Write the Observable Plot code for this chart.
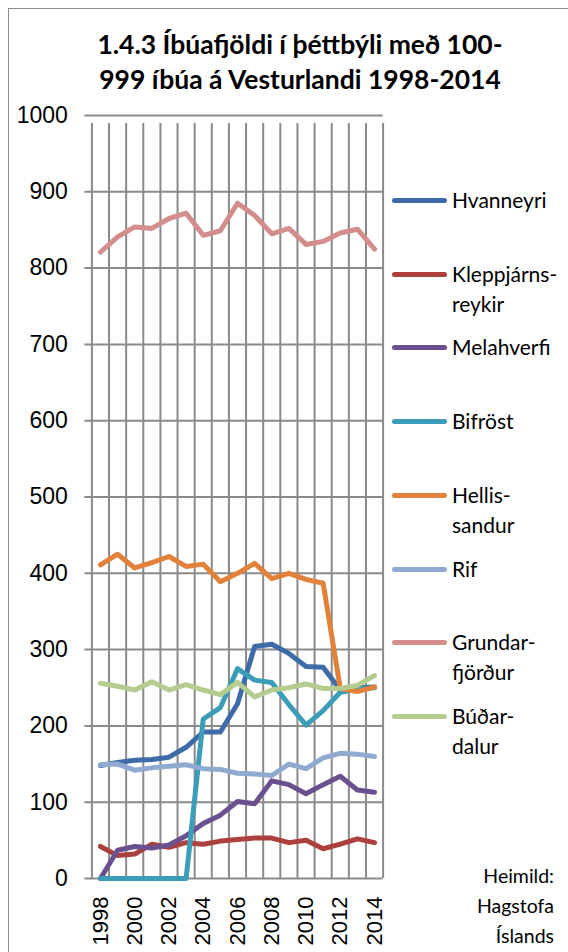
<!DOCTYPE html>
<html>
<head>
<meta charset="utf-8">
<script src="https://cdn.jsdelivr.net/npm/d3@7"></script>
<script src="https://cdn.jsdelivr.net/npm/@observablehq/plot@0.6"></script>
<style>
  html, body { margin: 0; padding: 0; background: #fff; overflow: hidden; width: 568px; height: 952px; }
  #wrap { position: relative; width: 568px; height: 952px; overflow: hidden; }
  #frame { position: absolute; left: 8px; top: 8px; width: 620px; height: 1000px; border: 1px solid #8c8c8c; box-sizing: border-box; }
  #chart { position: absolute; left: 0; top: 0; }
  #title { position: absolute; left: 30px; width: 540px; top: 27px; text-align: center; font-family: Lato, "Open Sans", sans-serif; font-weight: bold; font-size: 26.5px; line-height: 35px; color: #000; }
  .leg { position: absolute; left: 392px; font-family: Lato, "Open Sans", sans-serif; font-size: 21px; line-height: 30px; color: #000; }
  .leg .sw { position: absolute; left: 0; top: 13px; width: 55px; height: 5px; border-radius: 3px; }
  .leg .lab { position: absolute; left: 60px; top: 0; white-space: nowrap; }
  #src { position: absolute; right: 14px; top: 861px; text-align: right; font-family: Lato, "Open Sans", sans-serif; font-size: 19.5px; line-height: 30px; color: #000; }
</style>
</head>
<body>
<div id="wrap">
  <div id="frame"></div>
  <div id="chart"></div>
  <div id="title">1.4.3 Íbúafjöldi í þéttbýli með 100-<br>999 íbúa á Vesturlandi 1998-2014</div>
  <div id="legend"></div>
  <div id="src">Heimild:<br>Hagstofa<br>Íslands</div>
</div>
<script>
const years = [1998,1999,2000,2001,2002,2003,2004,2005,2006,2007,2008,2009,2010,2011,2012,2013,2014];
const seriesNames = ["Hvanneyri","Kleppjárnsreykir","Melahverfi","Bifröst","Hellissandur","Rif","Grundarfjörður","Búðardalur"];
const legendLabels = [["Hvanneyri"],["Kleppjárns-","reykir"],["Melahverfi"],["Bifröst"],["Hellis-","sandur"],["Rif"],["Grundar-","fjörður"],["Búðar-","dalur"]];
const colors = ["#3e6ca8","#ab403d","#6b508f","#3b9db7","#e2813a","#8fa9d1","#d38d8b","#b5cc8f"];

const hvanneyri        = [148,152,155,156,159,172,192,192,229,304,307,295,278,277,247,250,251];
const kleppjarnsreykir = [42,30,32,45,41,47,45,49,51,53,53,47,50,39,45,52,47];
const melahverfi       = [0,37,42,40,44,56,72,83,101,98,128,123,111,123,134,116,113];
const bifrost          = [0,0,0,0,0,0,209,224,275,260,257,228,201,220,244,248,250];
const hellissandur     = [411,425,407,414,422,409,412,389,400,413,393,400,392,387,249,245,251];
const rif              = [149,150,142,145,147,149,144,143,138,137,135,150,144,158,164,163,160];
const grundarfjordur   = [821,841,854,852,865,872,843,849,885,869,845,852,831,835,846,851,825];
const budardalur       = [256,252,247,258,247,254,247,241,257,238,247,250,255,249,249,253,266];

const yTicks = [0,100,200,300,400,500,600,700,800,900,1000];
const xTickLabels = [1998,2000,2002,2004,2006,2008,2010,2012,2014];

const allValues = [hvanneyri,kleppjarnsreykir,melahverfi,bifrost,hellissandur,rif,grundarfjordur,budardalur];
const rows = [];
allValues.forEach((vals, i) => vals.forEach((v, j) => rows.push({series: seriesNames[i], year: years[j], value: v})));

const boundaries = years.map(y => y - 0.5).concat([years[years.length-1] + 0.5]);
const x0 = years[0] - 0.5, x1 = years[years.length-1] + 0.5;

const plot = Plot.plot({
  width: 568,
  height: 952,
  marginLeft: 91.4,
  marginRight: 185.4,
  marginTop: 115,
  marginBottom: 74,
  style: {fontFamily: "'Liberation Sans', Arial, sans-serif", background: "transparent"},
  x: {type: "linear", domain: [x0, x1], label: null},
  y: {domain: [0, 1000], label: null},
  color: {domain: seriesNames, range: colors},
  marks: [
    Plot.ruleY(yTicks, {y: d => d, x1: x0, x2: x1, insetLeft: -7, stroke: "#8a8a8a", strokeWidth: 2, strokeOpacity: 1}),
    Plot.ruleX(boundaries, {x: d => d, y1: 0, y2: 1000, insetBottom: -8, stroke: "#8a8a8a", strokeWidth: 2, strokeOpacity: 1}),
    Plot.line(rows, {x: "year", y: "value", z: "series", stroke: "series", strokeWidth: 5, strokeLinejoin: "round", strokeLinecap: "round"}),
    Plot.axisY(yTicks, {tickSize: 0, tickPadding: 24, fontSize: 23, label: null, tickFormat: d => String(d), color: "#000"}),
    Plot.axisX(xTickLabels, {tickSize: 0, tickPadding: 18, tickRotate: -90, fontSize: 22, label: null, tickFormat: d => String(d), color: "#000"})
  ]
});
document.getElementById("chart").appendChild(plot);

const legend = document.getElementById("legend");
legendLabels.forEach((lines, i) => {
  const item = document.createElement("div");
  item.className = "leg";
  item.style.top = (200 + i * 73.7 - 15) + "px";
  const sw = document.createElement("div");
  sw.className = "sw";
  sw.style.background = colors[i];
  const lab = document.createElement("div");
  lab.className = "lab";
  lab.innerHTML = lines.join("<br>");
  item.appendChild(sw);
  item.appendChild(lab);
  legend.appendChild(item);
});
</script>
</body>
</html>
